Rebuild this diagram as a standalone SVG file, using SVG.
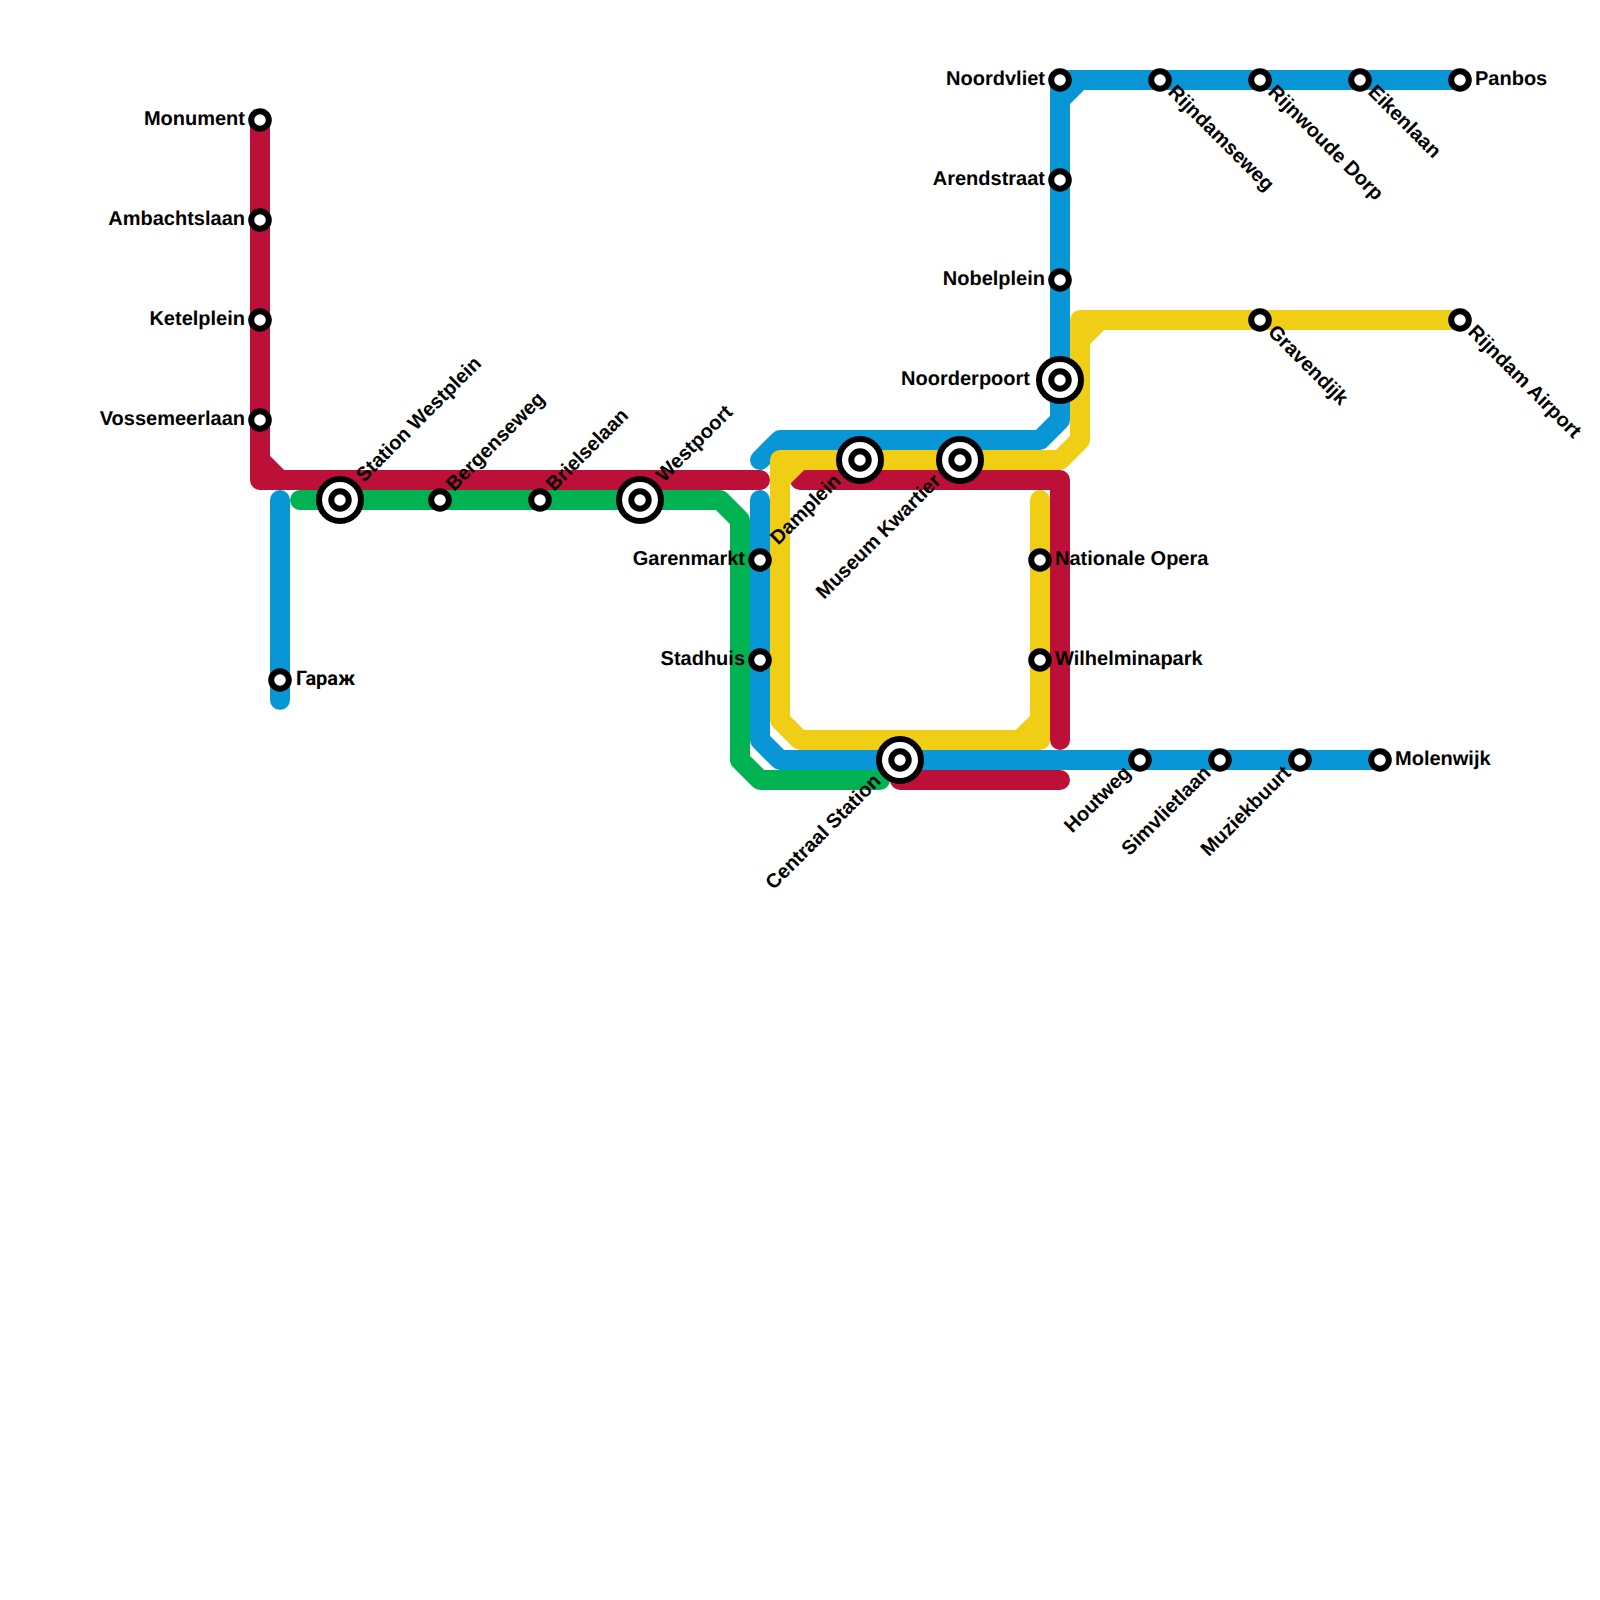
<svg xmlns="http://www.w3.org/2000/svg" width="1600" height="1600" viewBox="0 0 1600 1600">
<defs>
<style>
.l{fill:none;stroke-width:20;stroke-linecap:round;stroke-linejoin:round}
.red{stroke:#bd1038}.blue{stroke:#0896d7}.yellow{stroke:#f0ce15}.green{stroke:#00b251}
.s{fill:#fff;stroke:#000;stroke-width:6}
.o{fill:#fff;stroke:#000;stroke-width:6}
.i{fill:#fff;stroke:#000;stroke-width:6}
text{font-family:"Liberation Sans",Arial,sans-serif;font-size:20px;font-weight:700;fill:#000;text-rendering:geometricPrecision}
.e{text-anchor:end}
.c{font-family:Roboto,"Liberation Sans",sans-serif}
</style>
<g id="sm"><circle class="s" r="8.8"/></g>
<g id="lg"><circle class="o" r="21"/><circle class="i" r="8.7"/></g>
</defs>
<rect width="1600" height="1600" fill="#fff"/>
<g id="connectors">
<path class="l red" d="M260 120V460L280 480H760"/>
<path class="l red" d="M260 460V480H280"/>
<path class="l red" d="M800 480H1060V740"/>
<path class="l red" d="M900 780H1060"/>
<path class="l green" d="M300 500H720L740 520V760L760 780H880"/>
<path class="l blue" d="M280 500V700"/>
<path class="l blue" d="M760 460L780 440H1040L1060 420V100L1080 80H1460"/>
<path class="l blue" d="M1060 100V80H1080"/>
<path class="l blue" d="M760 500V740L780 760H1380"/>
<path class="l yellow" d="M1460 320H1100L1080 340V440L1060 460H800L780 480V720L800 740H1020L1040 720V500"/>
<path class="l yellow" d="M1080 340V320H1100"/>
<path class="l yellow" d="M800 460H780V480"/>
<path class="l yellow" d="M1020 740H1040V720"/>
</g>
<g id="monument"><use href="#sm" x="260" y="120"/><text class="e" x="245" y="125">Monument</text></g>
<g id="ambachtslaan"><use href="#sm" x="260" y="220"/><text class="e" x="245" y="225">Ambachtslaan</text></g>
<g id="ketelplein"><use href="#sm" x="260" y="320"/><text class="e" x="245" y="325">Ketelplein</text></g>
<g id="vossemeerlaan"><use href="#sm" x="260" y="420"/><text class="e" x="245" y="425">Vossemeerlaan</text></g>
<g id="garage"><use href="#sm" x="280" y="680"/><text class="c" x="296" y="685">Гараж</text></g>
<g id="station-westplein"><use href="#lg" x="340" y="500"/><text transform="translate(364 483) rotate(-45)">Station Westplein</text></g>
<g id="bergenseweg"><use href="#sm" x="440" y="500"/><text transform="translate(454 492) rotate(-45)">Bergenseweg</text></g>
<g id="brielselaan"><use href="#sm" x="540" y="500"/><text transform="translate(554 492) rotate(-45)">Brielselaan</text></g>
<g id="westpoort"><use href="#lg" x="640" y="500"/><text transform="translate(664 483) rotate(-45)">Westpoort</text></g>
<g id="garenmarkt"><use href="#sm" x="760" y="560"/><text class="e" x="745" y="565">Garenmarkt</text></g>
<g id="stadhuis"><use href="#sm" x="760" y="660"/><text class="e" x="745" y="665">Stadhuis</text></g>
<g id="damplein"><use href="#lg" x="860" y="460"/><text class="e" transform="translate(842 482) rotate(-45)">Damplein</text></g>
<g id="museum-kwartier"><use href="#lg" x="960" y="460"/><text class="e" transform="translate(942 482) rotate(-45)">Museum Kwartier</text></g>
<g id="centraal-station"><use href="#lg" x="900" y="760"/><text class="e" transform="translate(882 782) rotate(-45)">Centraal Station</text></g>
<g id="nationale-opera"><use href="#sm" x="1040" y="560"/><text x="1055" y="565">Nationale Opera</text></g>
<g id="wilhelminapark"><use href="#sm" x="1040" y="660"/><text x="1055" y="665">Wilhelminapark</text></g>
<g id="noordvliet"><use href="#sm" x="1060" y="80"/><text class="e" x="1045" y="85">Noordvliet</text></g>
<g id="arendstraat"><use href="#sm" x="1060" y="180"/><text class="e" x="1045" y="185">Arendstraat</text></g>
<g id="nobelplein"><use href="#sm" x="1060" y="280"/><text class="e" x="1045" y="285">Nobelplein</text></g>
<g id="noorderpoort"><use href="#lg" x="1060" y="380"/><text class="e" x="1030" y="385">Noorderpoort</text></g>
<g id="rijndamseweg"><use href="#sm" x="1160" y="80"/><text transform="translate(1167 93) rotate(45)">Rijndamseweg</text></g>
<g id="rijnwoude-dorp"><use href="#sm" x="1260" y="80"/><text transform="translate(1267 93) rotate(45)">Rijnwoude Dorp</text></g>
<g id="eikenlaan"><use href="#sm" x="1360" y="80"/><text transform="translate(1367 93) rotate(45)">Eikenlaan</text></g>
<g id="panbos"><use href="#sm" x="1460" y="80"/><text x="1475" y="85">Panbos</text></g>
<g id="gravendijk"><use href="#sm" x="1260" y="320"/><text transform="translate(1267 333) rotate(45)">Gravendijk</text></g>
<g id="rijndam-airport"><use href="#sm" x="1460" y="320"/><text transform="translate(1467 333) rotate(45)">Rijndam Airport</text></g>
<g id="houtweg"><use href="#sm" x="1140" y="760"/><text class="e" transform="translate(1132 774) rotate(-45)">Houtweg</text></g>
<g id="simvlietlaan"><use href="#sm" x="1220" y="760"/><text class="e" transform="translate(1212 774) rotate(-45)">Simvlietlaan</text></g>
<g id="muziekbuurt"><use href="#sm" x="1300" y="760"/><text class="e" transform="translate(1292 774) rotate(-45)">Muziekbuurt</text></g>
<g id="molenwijk"><use href="#sm" x="1380" y="760"/><text x="1395" y="765">Molenwijk</text></g>
</svg>
